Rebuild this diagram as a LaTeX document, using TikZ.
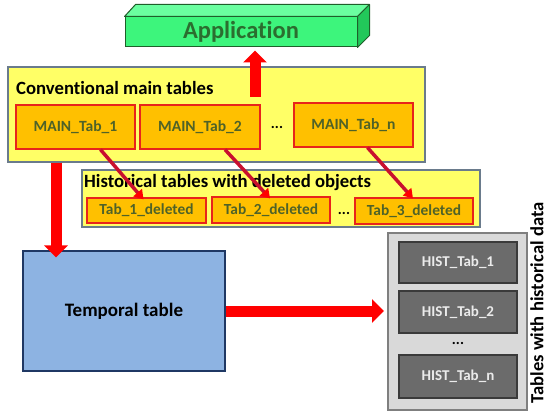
\documentclass[tikz,border=0pt]{standalone}
\usepackage{fontspec}
\setmainfont{Carlito}[Ligatures=NoCommon]
\usetikzlibrary{arrows.meta,calc}

\definecolor{appfront}{HTML}{3DF57C}
\definecolor{apptop}{HTML}{6BFFA0}
\definecolor{appside}{HTML}{22C85A}
\definecolor{appline}{HTML}{1F5F2A}
\definecolor{apptext}{HTML}{2B6E2F}
\definecolor{groupfill}{HTML}{FFFF66}
\definecolor{groupline}{HTML}{6A7B8C}
\definecolor{tabfill}{HTML}{FFC000}
\definecolor{tabline}{HTML}{E8231B}
\definecolor{tabtext}{HTML}{4F6228}
\definecolor{tempfill}{HTML}{8DB3E2}
\definecolor{templine}{HTML}{1F3864}
\definecolor{histback}{HTML}{D9D9D9}
\definecolor{histline}{HTML}{7F7F7F}
\definecolor{histfill}{HTML}{6B6B6B}
\definecolor{histedge}{HTML}{3A3A3A}
\definecolor{flowred}{HTML}{FF0000}
\definecolor{linkred}{HTML}{C8102E}

\tikzset{
  group/.style={draw=groupline, line width=1.2pt, fill=groupfill, inner sep=0pt},
  maintab/.style={draw=tabline, line width=1.2pt, fill=tabfill, inner sep=0pt,
    font=\bfseries\fontsize{15.6}{17}\selectfont, text=tabtext},
  deltab/.style={maintab, font=\bfseries\fontsize{15.4}{17}\selectfont},
  histtab/.style={draw=histedge, line width=1.4pt, fill=histfill, inner sep=0pt,
    font=\bfseries\fontsize{15}{17}\selectfont, text=white!92!black},
  grouptitle/.style={anchor=west, inner sep=0pt, font=\bfseries\fontsize{18.7}{20}\selectfont},
  dots/.style={inner sep=0pt, font=\bfseries\fontsize{15}{17}\selectfont},
  bigflow/.style={draw=flowred, line width=11pt,
    -{Triangle[width=23pt,length=12pt]}},
  link/.style={draw=linkred, line width=3.5pt,
    -{Triangle[width=11pt,length=9pt,fill=flowred,color=flowred]}},
}

\begin{document}
\begin{tikzpicture}[x=1pt, y=-1pt]
\useasboundingbox (0,0) rectangle (547,412);

% application block drawn as a 3D bar
\node[draw=appline, line width=1pt, fill=appfront, minimum width=232pt, minimum height=30pt,
  inner sep=0pt, font=\bfseries\fontsize{24.5}{26}\selectfont, text=apptext] (app) at (241,32) {Application};
\fill[apptop, draw=appline, line width=1pt, line join=round]
  (app.north west) -- ++(11,-12) -- ($(app.north east)+(12,-12)$) -- (app.north east) -- cycle;
\fill[appside, draw=appline, line width=1pt, line join=round]
  (app.north east) -- ++(12,-12) -- ($(app.south east)+(12,-12)$) -- (app.south east) -- cycle;

% conventional main tables
\node[group, minimum width=417pt, minimum height=95pt] (main) at (216.5,114.5) {};
\node[grouptitle] (maintitle) at (16,88) {Conventional main tables};
\node[maintab, minimum width=119pt, minimum height=44pt] (m1) at (75.5,127) {MAIN\_Tab\_1};
\node[maintab, minimum width=120pt, minimum height=44pt] (m2) at (200,127) {MAIN\_Tab\_2};
\node[dots] (mdots) at (277,127) {...};
\node[maintab, minimum width=119pt, minimum height=44pt] (mn) at (353.5,125) {MAIN\_Tab\_n};

% historical tables with deleted objects
\node[group, minimum width=398pt, minimum height=57pt] (del) at (281,198.5) {};
\node[grouptitle] (deltitle) at (84,183) {Historical tables with deleted objects};
\node[deltab, minimum width=119pt, minimum height=25pt] (d1) at (146.5,210.5) {Tab\_1\_deleted};
\node[deltab, minimum width=118pt, minimum height=26pt] (d2) at (271,210) {Tab\_2\_deleted};
\node[dots] (ddots) at (344,213) {...};
\node[deltab, minimum width=118pt, minimum height=26pt] (d3) at (414,211) {Tab\_3\_deleted};

% temporal table
\node[draw=templine, line width=1.2pt, fill=tempfill, minimum width=202pt, minimum height=120pt,
  inner sep=0pt, font=\bfseries\fontsize{19}{21}\selectfont] (temp) at (124,311) {Temporal table};

% tables with historical data
\node[draw=histline, line width=1.2pt, fill=histback, minimum width=139pt, minimum height=177pt,
  inner sep=0pt] (hist) at (457.5,321.5) {};
\node[histtab, minimum width=118pt, minimum height=41pt] (h1) at (458,262.5) {HIST\_Tab\_1};
\node[histtab, minimum width=118pt, minimum height=42pt] (h2) at (458,312) {HIST\_Tab\_2};
\node[dots] (hdots) at (458,343) {...};
\node[histtab, minimum width=118pt, minimum height=43pt] (hn) at (458,376.5) {HIST\_Tab\_n};
\node[rotate=90, inner sep=0pt, font=\bfseries\fontsize{18.6}{20}\selectfont] (histlabel) at (537,303)
  {Tables with historical data};

% data flow
\coordinate (upstart) at (255,97);
\draw[bigflow] (upstart) -- ([yshift=-3pt]app.south -| upstart);
\draw[bigflow] (main.south -| 56,0) -- ([yshift=-7pt]temp.north -| 56,0);
\draw[bigflow] (temp.east |- 0,311) -- (384,311);

% links from main tables to their deleted-object tables
\draw[link] ([xshift=25pt]m1.south) -- ([xshift=-3pt,yshift=-2pt]d1.north);
\draw[link] ([xshift=25pt]m2.south) -- ([xshift=-1pt,yshift=-2pt]d2.north);
\draw[link] ([xshift=14pt]mn.south) -- ([xshift=-1pt,yshift=-1pt]d3.north);
\end{tikzpicture}
\end{document}
